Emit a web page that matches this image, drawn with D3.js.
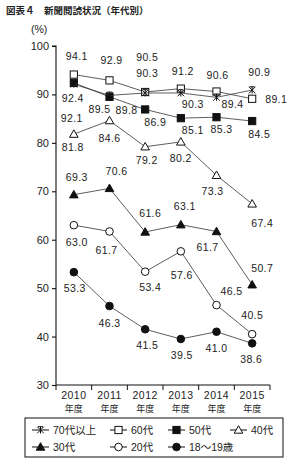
<!DOCTYPE html>
<html lang="ja">
<head>
<meta charset="utf-8">
<script src="https://d3js.org/d3.v7.min.js"></script>
<style>
  body { margin: 0; background: #fff; }
  svg text { font-family: "Liberation Sans", Arial, "Noto Sans CJK JP", sans-serif; fill: #222; }
</style>
</head>
<body>
<div id="chart"></div>
<script>
// ---- data ----
var years = ["2010", "2011", "2012", "2013", "2014", "2015"];
var seriesNames = ["70代以上", "60代", "50代", "40代", "30代", "20代", "18～19歳"];
var v70 = [92.1, 89.8, 90.3, 90.3, 89.4, 90.9];
var v60 = [94.1, 92.9, 90.5, 91.2, 90.6, 89.1];
var v50 = [92.4, 89.5, 86.9, 85.1, 85.3, 84.5];
var v40 = [81.8, 84.6, 79.2, 80.2, 73.3, 67.4];
var v30 = [69.3, 70.6, 61.6, 63.1, 61.7, 50.7];
var v20 = [63.0, 61.7, 53.4, 57.6, 46.5, 40.5];
var v18 = [53.3, 46.3, 41.5, 39.5, 41.0, 38.6];
var yTicks = [30, 40, 50, 60, 70, 80, 90, 100];

// label offsets (dx, dy) relative to each point
var off70 = [[-2, 38], [17, 19], [2, -16], [12, 15], [16, 11], [7, -14]];
var off60 = [[3, -15], [2, -16], [2, -31], [2, -14], [1, -12.5], [24, 4.5]];
var off50 = [[-1, 19], [-10, 16], [10, 17], [12, 16], [5, 15.5], [7, 17]];
var off40 = [[-1, 16.6], [0, 21.7], [1.5, 17], [0, 20], [-4, 20], [10, 23]];
var off30 = [[3, -14], [7, -13.4], [5, -15], [4, -15], [-9, 20], [10, -13]];
var off20 = [[3, 20.5], [-3, 22.5], [5, 19], [1, 28], [15, -10], [0, -15]];
var off18 = [[1, 19.5], [0, 20.6], [2, 20], [1, 20], [0, 20], [-1, 20]];

var series = [
  {name: seriesNames[0], values: v70, off: off70, marker: "star"},
  {name: seriesNames[1], values: v60, off: off60, marker: "squareOpen"},
  {name: seriesNames[2], values: v50, off: off50, marker: "squareFill"},
  {name: seriesNames[3], values: v40, off: off40, marker: "triOpen"},
  {name: seriesNames[4], values: v30, off: off30, marker: "triFill"},
  {name: seriesNames[5], values: v20, off: off20, marker: "circOpen"},
  {name: seriesNames[6], values: v18, off: off18, marker: "circFill"}
];

var width = 293, height = 461;
var svg = d3.select("#chart").append("svg")
  .attr("width", width).attr("height", height);

var x = d3.scaleBand().domain(years).range([56, 270]);
var y = d3.scaleLinear().domain([30, 100]).range([385, 46]);
var cx = function(yr) { return x(yr) + x.bandwidth() / 2; };

// title
svg.append("text").attr("x", 6).attr("y", 14)
  .style("font-size", "9.5px").style("font-weight", "bold")
  .style("font-family", "'Noto Sans CJK JP', sans-serif")
  .text("図表４　新聞閲読状況（年代別）");
svg.append("text").attr("x", 31).attr("y", 33)
  .style("font-size", "10.5px").text("(%)");

// y axis
var yAxis = svg.append("g").attr("transform", "translate(56,0)")
  .call(d3.axisLeft(y).tickValues(yTicks).tickSize(4).tickPadding(3));
yAxis.selectAll("path, line").attr("stroke", "#111").attr("stroke-width", 1.1);
yAxis.select(".domain").attr("d", "M-4,46H0V385");
yAxis.selectAll("text").style("font-size", "11px").attr("fill", "#222")
  .style("font-family", "'Liberation Sans', Arial, sans-serif");

// x axis
var xAxis = svg.append("g").attr("transform", "translate(0,385)");
xAxis.append("line").attr("x1", 56).attr("x2", 270).attr("y1", 0).attr("y2", 0)
  .attr("stroke", "#111").attr("stroke-width", 1.1);
xAxis.selectAll(".tk").data(years.concat(["end"])).enter().append("line")
  .attr("x1", d => d === "end" ? 270 : x(d)).attr("x2", d => d === "end" ? 270 : x(d))
  .attr("y1", 0).attr("y2", 5).attr("stroke", "#111").attr("stroke-width", 1);
xAxis.selectAll(".yr").data(years).enter().append("text")
  .attr("x", d => cx(d)).attr("y", 14).attr("text-anchor", "middle")
  .style("font-size", "10.5px").style("letter-spacing", "0.5px").text(d => d);
xAxis.selectAll(".nd").data(years).enter().append("text")
  .attr("x", d => cx(d)).attr("y", 27).attr("text-anchor", "middle")
  .style("font-size", "9px").style("font-family", "'Noto Sans CJK JP', sans-serif")
  .text("年度");

// markers
function drawMarker(g, type, px, py) {
  var s = 3.6;
  if (type === "star") {
    var p = `M${px - 3.3},${py - 3.3}L${px + 3.3},${py + 3.3}M${px + 3.3},${py - 3.3}L${px - 3.3},${py + 3.3}M${px},${py - 3.5}V${py + 3.5}M${px - 2.5},${py - 3.3}H${px + 2.5}`;
    g.append("path").attr("d", p).attr("stroke", "#111").attr("stroke-width", 1).attr("fill", "none");
  } else if (type === "squareOpen" || type === "squareFill") {
    g.append("rect").attr("x", px - s).attr("y", py - s).attr("width", 2 * s).attr("height", 2 * s)
      .attr("fill", type === "squareFill" ? "#111" : "#fff").attr("stroke", "#111").attr("stroke-width", 1);
  } else if (type === "triOpen" || type === "triFill") {
    g.append("path").attr("d", `M${px},${py - 4.3}L${px + 4.3},${py + 3.2}L${px - 4.3},${py + 3.2}Z`)
      .attr("fill", type === "triFill" ? "#111" : "#fff").attr("stroke", "#111").attr("stroke-width", 1);
  } else {
    g.append("circle").attr("cx", px).attr("cy", py).attr("r", 3.8)
      .attr("fill", type === "circFill" ? "#111" : "#fff").attr("stroke", "#111").attr("stroke-width", 1);
  }
}

var line = d3.line().x((d, i) => cx(years[i])).y(d => y(d));

// draw series from bottom to top so upper series sit over lower
var plot = svg.append("g");
series.slice().reverse().forEach(function(s) {
  var g = plot.append("g");
  g.append("path").attr("d", line(s.values)).attr("fill", "none")
    .attr("stroke", "#333").attr("stroke-width", 0.8);
  s.values.forEach(function(v, i) { drawMarker(g, s.marker, cx(years[i]), y(v)); });
});

// value labels
series.forEach(function(s) {
  svg.append("g").selectAll("text").data(s.values).enter().append("text")
    .attr("x", (d, i) => cx(years[i]) + s.off[i][0])
    .attr("y", (d, i) => y(d) + s.off[i][1])
    .attr("text-anchor", "middle")
    .style("font-size", "10.5px").style("letter-spacing", "0.4px")
    .text(d => d.toFixed(1));
});

// legend
var lg = svg.append("g");
lg.append("rect").attr("x", 25).attr("y", 418).attr("width", 258).attr("height", 39)
  .attr("fill", "#fff").attr("stroke", "#111").attr("stroke-width", 1);
var legX = [32, 110, 168, 230];
var legPos = [[0, 0], [1, 0], [2, 0], [3, 0], [0, 1], [1, 1], [2, 1]];
series.forEach(function(s, i) {
  var lx = legX[legPos[i][0]], ly = 430 + legPos[i][1] * 17;
  lg.append("line").attr("x1", lx).attr("x2", lx + 17).attr("y1", ly).attr("y2", ly)
    .attr("stroke", "#111").attr("stroke-width", 1);
  drawMarker(lg, s.marker, lx + 8.5, ly);
  lg.append("text").attr("x", lx + 21).attr("y", ly + 4)
    .style("font-size", "10.5px").text(s.name);
});
</script>
</body>
</html>
